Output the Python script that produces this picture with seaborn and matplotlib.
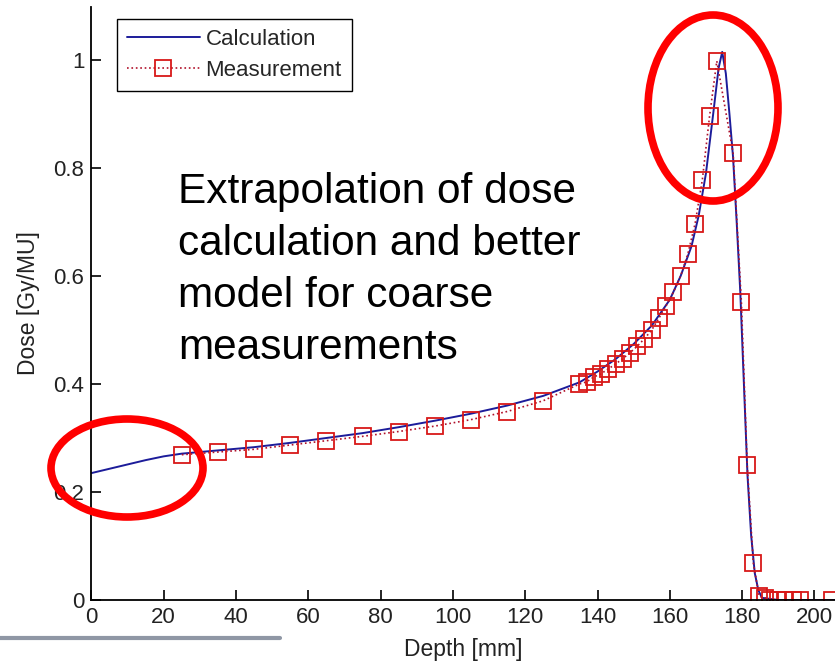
import numpy as np
import pandas as pd
import seaborn as sns
import matplotlib.pyplot as plt
from matplotlib.patches import Ellipse
from matplotlib.lines import Line2D

# calculated depth-dose curve
calc_depth = [0, 5, 10, 15, 20, 25, 35, 45, 55, 65, 75, 85, 95, 105, 115, 125,
              135, 140, 145, 150, 155, 160, 163, 166, 168, 170, 172, 173.5, 174.5,
              175.5, 176.5, 177.5, 178.5, 179.5, 180.5, 181.5, 182.5, 183.5, 184.5,
              185.5, 190, 200, 210]
calc_dose = [0.235, 0.243, 0.251, 0.259, 0.266, 0.271, 0.277, 0.283, 0.291, 0.300,
             0.309, 0.320, 0.332, 0.345, 0.360, 0.378, 0.403, 0.423, 0.446, 0.474,
             0.508, 0.556, 0.600, 0.655, 0.712, 0.790, 0.900, 0.985, 1.015,
             0.975, 0.900, 0.820, 0.700, 0.570, 0.400, 0.230, 0.120, 0.050, 0.018,
             0.004, 0.0, 0.0, 0.0]

# measured points
meas_depth = [25, 35, 45, 55, 65, 75, 85, 95, 105, 115, 125,
              135, 137, 139, 141, 143, 145, 147, 149, 151, 153, 155, 157, 159, 161,
              163, 165, 167, 169, 171, 173, 177.5, 179.8, 181.4, 183.1, 184.7,
              186.3, 187.7, 190, 192, 194, 196, 205]
meas_dose = [0.269, 0.274, 0.279, 0.287, 0.295, 0.303, 0.312, 0.322, 0.334, 0.349, 0.369,
             0.400, 0.404, 0.413, 0.419, 0.428, 0.437, 0.447, 0.458, 0.470, 0.484, 0.500,
             0.522, 0.545, 0.570, 0.600, 0.641, 0.697, 0.778, 0.896, 0.998, 0.828,
             0.552, 0.250, 0.069, 0.007, 0.004, 0.0, 0.0, 0.0, 0.0, 0.0, 0.0]

df_calc = pd.DataFrame({'depth': calc_depth, 'dose': calc_dose})
df_meas = pd.DataFrame({'depth': meas_depth, 'dose': meas_dose})

sns.set_style('white')
plt.rcParams['font.family'] = ['Liberation Sans', 'DejaVu Sans']

fig = plt.figure(figsize=(8.35, 6.64), dpi=100)
ax = fig.add_axes([0.1095, 0.0964, 0.8905, 0.893])

sns.lineplot(data=df_calc, x='depth', y='dose', color='#1c1c9a', lw=1.4,
             sort=False, ax=ax, label='Calculation')
sns.lineplot(data=df_meas, x='depth', y='dose', color='#b0102a', lw=1.2,
             linestyle=':', marker='s', markersize=11, markerfacecolor='none',
             markeredgecolor='#d81818', markeredgewidth=1.3,
             sort=False, ax=ax, label='Measurement')

ax.set_xlim(0, 205.7)
ax.set_ylim(0, 1.098)
ax.set_xticks(np.arange(0, 201, 20))
ax.set_yticks([0, 0.2, 0.4, 0.6, 0.8, 1])
ax.set_yticklabels(['0', '0.2', '0.4', '0.6', '0.8', '1'])
ax.tick_params(direction='in', length=7, width=1.2, labelsize=16, colors='black',
               bottom=True, left=True, pad=5)
for lbl in ax.get_xticklabels() + ax.get_yticklabels():
    lbl.set_color('#222222')
ax.spines['top'].set_visible(False)
ax.spines['right'].set_visible(False)
for s in ['left', 'bottom']:
    ax.spines[s].set_color('black')
    ax.spines[s].set_linewidth(1.3)

ax.set_xlabel('Depth [mm]', fontsize=16.5, color='#222222', labelpad=7)
ax.set_ylabel('Dose [Gy/MU]', fontsize=16.5, color='#222222', labelpad=10)

leg = ax.legend(loc='upper left', bbox_to_anchor=(0.034, 0.98), fontsize=16,
                frameon=True, fancybox=False, edgecolor='black', framealpha=1,
                handlelength=3.3, borderpad=0.45, labelspacing=0.45, handletextpad=0.25,
                borderaxespad=0)
leg.get_frame().set_linewidth(1.0)

ax.text(178 / 835, 1 - 172 / 664, 'Extrapolation of dose\ncalculation and better\nmodel for coarse\nmeasurements',
        transform=fig.transFigure, fontsize=30.5, va='top', ha='left',
        linespacing=1.39, color='black')

# red annotation ellipses (figure pixels)
W, H = 835, 664
for cx, cy, w, h in [(127, 468, 152, 98), (713, 108, 130, 186)]:
    e = Ellipse((cx / W, 1 - cy / H), w / W, h / H, transform=fig.transFigure,
                fill=False, edgecolor='#ff0000', lw=5.5, zorder=10, clip_on=False)
    fig.add_artist(e)

# slide separator remnant
fig.add_artist(Line2D([0, 280 / W], [1 - 638 / H, 1 - 638 / H], transform=fig.transFigure,
                      color='#8f97a5', lw=3))

fig.savefig('out.png', dpi=100)
